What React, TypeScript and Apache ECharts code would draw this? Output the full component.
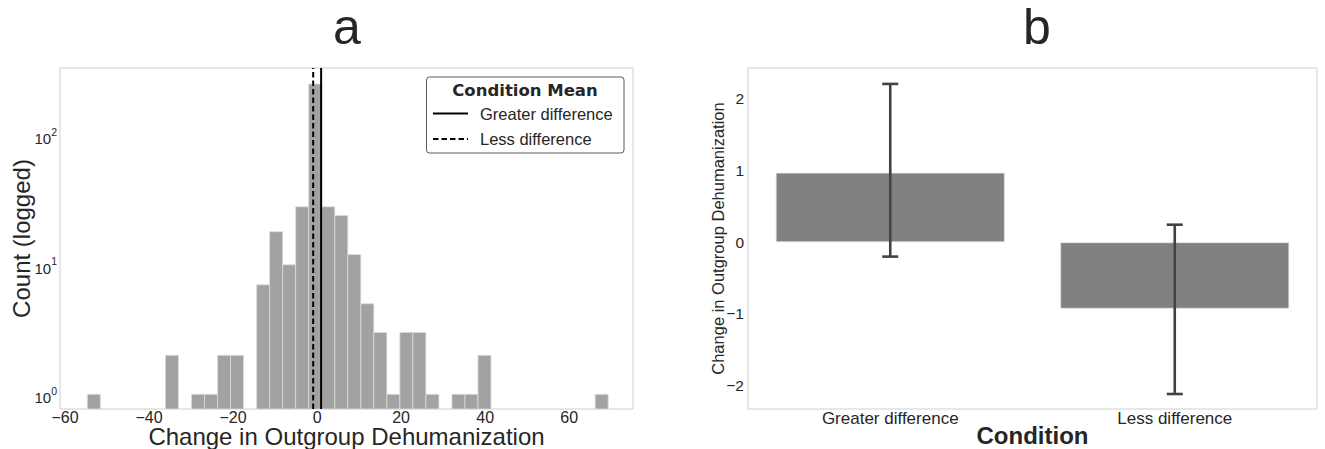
import React, { useEffect, useRef } from "react";
import * as echarts from "echarts";

// ---- Panel a: histogram of change in outgroup dehumanization ----
const binStart = -54.7;
const binWidth = 3.1;
const binCounts = [1, 0, 0, 0, 0, 0, 2, 0, 1, 1, 2, 2, 0, 7, 18, 10, 28, 248, 28, 24, 12, 5, 3, 1, 3, 3, 1, 0, 1, 1, 2, 0, 0, 0, 0, 0, 0, 0, 0, 1];
const histXTicks = [-60, -40, -20, 0, 20, 40, 60];
const histYTicks = [1, 10, 100];
const meanLabels = ["Greater difference", "Less difference"];
const meanValues = [0.96, -0.93];

// ---- Panel b: bar chart with error bars ----
const conditions = ["Greater difference", "Less difference"];
const conditionMeans = [0.97, -0.926];
const ciLow = [-0.2, -2.116];
const ciHigh = [2.208, 0.245];
const barYTicks = [-2, -1, 0, 1, 2];

const TXT = "#262626";
const FONT = "'Liberation Sans', Arial, sans-serif";

const fmtNum = (v: number) => (v < 0 ? "\u2212" + Math.abs(v) : String(v));

export default function App() {
  const ref = useRef<HTMLDivElement>(null);
  useEffect(() => {
    if (!ref.current) return;
    const chart = echarts.init(ref.current, null, { renderer: "svg" });

    const histData = binCounts
      .map((c, i) => [binStart + i * binWidth, binStart + (i + 1) * binWidth, c])
      .filter((d) => d[2] > 0);

    const yMinA = 0.77;
    const yMaxA = 330;

    const gridBase = { show: true, borderColor: "#cfcfcf", borderWidth: 1, backgroundColor: "transparent", containLabel: false, outerBoundsMode: "none" };

    const option: any = {
      animation: false,
      textStyle: { fontFamily: FONT, color: TXT },
      grid: [
        { ...gridBase, left: 60, top: 68, width: 573, height: 341 },
        { ...gridBase, left: 748, top: 68, width: 569, height: 341 },
      ],
      xAxis: [
        {
          gridIndex: 0,
          type: "value",
          min: -61.2,
          max: 75.2,
          axisLine: { show: false },
          axisTick: { show: false },
          splitLine: { show: false },
          axisLabel: {
            customValues: histXTicks,
            formatter: (v: number) => fmtNum(v),
            fontSize: 16,
            lineHeight: 16,
            color: TXT,
            fontFamily: FONT,
            margin: 0,
          },
          name: "Change in Outgroup Dehumanization",
          nameLocation: "middle",
          nameGap: 19.5,
          nameMoveOverlap: false,
          nameTextStyle: { fontSize: 24, lineHeight: 16, color: TXT, fontFamily: FONT, verticalAlign: "top" },
        },
        {
          gridIndex: 1,
          type: "category",
          data: conditions,
          axisLine: { show: false },
          axisTick: { show: false },
          splitLine: { show: false },
          axisLabel: { fontSize: 17, lineHeight: 17, color: TXT, fontFamily: FONT, margin: 1 },
          name: "Condition",
          nameLocation: "middle",
          nameGap: 18.5,
          nameMoveOverlap: false,
          nameTextStyle: { fontSize: 24, lineHeight: 16, fontWeight: "bold", color: TXT, fontFamily: FONT, verticalAlign: "top" },
        },
      ],
      yAxis: [
        {
          gridIndex: 0,
          type: "log",
          logBase: 10,
          min: yMinA,
          max: yMaxA,
          axisLine: { show: false },
          axisTick: { show: false },
          splitLine: { show: false },
          axisLabel: {
            customValues: histYTicks,
            formatter: (v: number) => `{b|10}{s|${Math.round(Math.log10(v))}}`,
            margin: 3,
            rich: {
              b: { fontSize: 15, color: TXT, fontFamily: FONT, lineHeight: 22, verticalAlign: "bottom" },
              s: { fontSize: 10.5, color: TXT, fontFamily: FONT, lineHeight: 22, verticalAlign: "top", padding: [2, 0, 0, 0] },
            },
          },
          name: "Count (logged)",
          nameLocation: "middle",
          nameGap: 27,
          nameMoveOverlap: false,
          nameTextStyle: { fontSize: 24, color: TXT, fontFamily: FONT },
        },
        {
          gridIndex: 1,
          type: "value",
          min: -2.325,
          max: 2.43,
          axisLine: { show: false },
          axisTick: { show: false },
          splitLine: { show: false },
          axisLabel: {
            customValues: barYTicks,
            formatter: (v: number) => fmtNum(v),
            fontSize: 15.5,
            color: TXT,
            fontFamily: FONT,
            margin: 4,
          },
          name: "Change in Outgroup Dehumanization",
          nameLocation: "middle",
          nameGap: 22,
          nameMoveOverlap: false,
          nameTextStyle: { fontSize: 16.5, color: TXT, fontFamily: FONT },
        },
      ],
      series: [
        {
          type: "custom",
          xAxisIndex: 0,
          yAxisIndex: 0,
          encode: { x: [0, 1], y: 2 },
          data: histData,
          renderItem: (params: any, api: any) => {
            const p0 = api.coord([api.value(0), api.value(2)]);
            const p1 = api.coord([api.value(1), api.value(2)]);
            const bottom = params.coordSys.y + params.coordSys.height;
            return {
              type: "rect",
              shape: { x: p0[0], y: p0[1], width: p1[0] - p0[0], height: bottom - p0[1] },
              style: { fill: "#a2a2a2", stroke: "#dcdcdc", lineWidth: 0.8 },
            };
          },
        },
        ...meanValues.map((m, i) => ({
          type: "line",
          name: meanLabels[i],
          xAxisIndex: 0,
          yAxisIndex: 0,
          data: [
            [m, yMinA],
            [m, yMaxA],
          ],
          showSymbol: false,
          symbol: "none",
          lineStyle: { color: "#000000", width: 2, type: i === 0 ? "solid" : [5.5, 3] },
          z: 5,
        })),
        {
          type: "bar",
          xAxisIndex: 1,
          yAxisIndex: 1,
          data: conditionMeans,
          barWidth: "80.5%",
          itemStyle: { color: "#808080", borderColor: "#e6e6e6", borderWidth: 0.8 },
        },
        {
          type: "custom",
          xAxisIndex: 1,
          yAxisIndex: 1,
          data: conditions.map((_, i) => [i, ciLow[i], ciHigh[i]]),
          encode: { x: 0, y: [1, 2] },
          z: 6,
          renderItem: (params: any, api: any) => {
            const lo = api.coord([api.value(0), api.value(1)]);
            const hi = api.coord([api.value(0), api.value(2)]);
            const hw = 8;
            const st = { stroke: "#424242", lineWidth: 2.6 };
            return {
              type: "group",
              children: [
                { type: "line", shape: { x1: lo[0], y1: lo[1], x2: hi[0], y2: hi[1] }, style: st },
                { type: "line", shape: { x1: lo[0] - hw, y1: lo[1], x2: lo[0] + hw, y2: lo[1] }, style: st },
                { type: "line", shape: { x1: hi[0] - hw, y1: hi[1], x2: hi[0] + hw, y2: hi[1] }, style: st },
              ],
            };
          },
        },
      ],
      graphic: [
        { type: "text", x: 347, y: 27, style: { text: "a", fontSize: 50, lineHeight: 40, fontFamily: FONT, fill: TXT, textAlign: "center", textVerticalAlign: "middle" } },
        { type: "text", x: 1037, y: 27, style: { text: "b", fontSize: 50, lineHeight: 40, fontFamily: FONT, fill: TXT, textAlign: "center", textVerticalAlign: "middle" } },
        {
          type: "group",
          z: 10,
          children: [
            { type: "rect", shape: { x: 426.5, y: 77, width: 197.5, height: 76, r: 3 }, style: { fill: "#ffffff", stroke: "#5a5a5a", lineWidth: 1 } },
            { type: "text", x: 525, y: 90.5, style: { text: "Condition Mean", fontSize: 16.5, fontWeight: "bold", fontFamily: "'DejaVu Sans', sans-serif", fill: TXT, textAlign: "center", textVerticalAlign: "middle" } },
            { type: "line", shape: { x1: 433, y1: 113.5, x2: 468, y2: 113.5 }, style: { stroke: "#000", lineWidth: 2 } },
            { type: "line", shape: { x1: 433, y1: 139, x2: 468, y2: 139 }, style: { stroke: "#000", lineWidth: 2, lineDash: [5.5, 3] } },
            { type: "text", x: 480, y: 114, style: { text: meanLabels[0], fontSize: 16.5, fontFamily: FONT, fill: TXT, textAlign: "left", textVerticalAlign: "middle" } },
            { type: "text", x: 480, y: 139, style: { text: meanLabels[1], fontSize: 16.5, fontFamily: FONT, fill: TXT, textAlign: "left", textVerticalAlign: "middle" } },
          ],
        },
      ],
    };
    chart.setOption(option);
    return () => chart.dispose();
  }, []);
  return <div ref={ref} style={{ position: "fixed", left: 0, top: 0, width: 1325, height: 449, background: "#fff" }} />;
}
